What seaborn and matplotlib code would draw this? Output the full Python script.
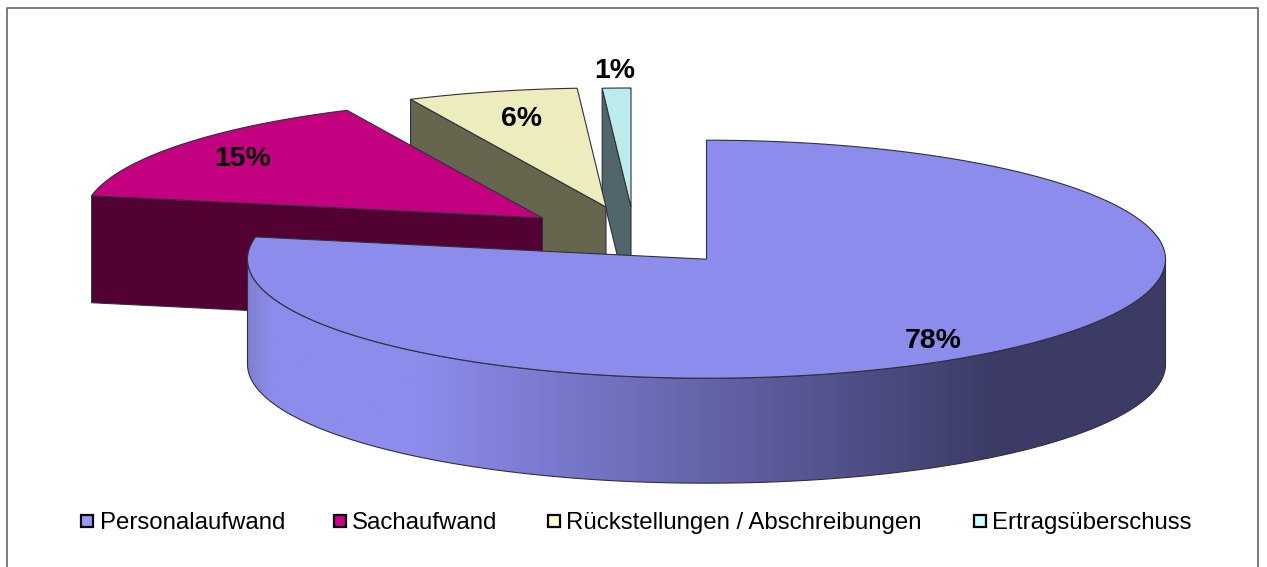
import numpy as np
import matplotlib
matplotlib.use('Agg')
import matplotlib.pyplot as plt
from matplotlib.patches import Polygon, Rectangle
import seaborn as sns

# Values of the chart
categories = ['Personalaufwand', 'Sachaufwand', 'Rückstellungen / Abschreibungen', 'Ertragsüberschuss']
values = [78, 15, 6, 1]
value_labels = ['78%', '15%', '6%', '1%']

top_colors = ['#8c8cec', '#c30080', '#ececbd', '#bbebeb']
side_colors = ['#3b3b66', '#530033', '#66664f', '#50666a']
legend_colors = ['#9999ff', '#cc0088', '#ffffcc', '#ccffff']

# Pie geometry in pixels (y goes down)
RX = 459
RY = 119
centers = [(706.5, 259.2), (542.5, 218), (606, 207), (631, 207)]
depths = [105, 107, 105, 105]
label_pos = [(933, 341), (243, 159), (522, 119), (615, 71)]
legend_box_x = [81, 334, 548, 974]
legend_text_x = [100, 352, 566, 992]
LEGEND_Y = 521
EDGE = '#30303a'


def rim_point(center, angle):
    # angle is clockwise from 12 o'clock
    return np.column_stack((center[0] + RX * np.sin(angle), center[1] - RY * np.cos(angle)))


def draw_slice(ax, center, depth, start, end, top_color, side_color):
    # cut face on the left side of the slice (only the side facing the viewer)
    p = rim_point(center, np.array([start]))[0]
    side = [p, center, (center[0], center[1] + depth), (p[0], p[1] + depth)]
    ax.add_patch(Polygon(side, closed=True, facecolor=side_color, edgecolor=EDGE, lw=0.8))
    arc = rim_point(center, np.linspace(start, end, 80))
    top = np.vstack(([center], arc))
    ax.add_patch(Polygon(top, closed=True, facecolor=top_color, edgecolor=EDGE, lw=0.8))


def draw_main_slice(ax, center, depth, end, top_color, side_color):
    # outer wall with a left to right shading, clipped to the wall shape
    upper = rim_point(center, np.linspace(np.pi / 2, 3 * np.pi / 2, 400))
    wall = np.vstack((upper, (upper + (0, depth))[::-1]))
    wall_patch = Polygon(wall, closed=True, fill=False, edgecolor=EDGE, lw=0.8, zorder=3)
    ax.add_patch(wall_patch)

    x0, x1 = wall[:, 0].min(), wall[:, 0].max()
    y0, y1 = wall[:, 1].min(), wall[:, 1].max()
    cmap = sns.blend_palette(['#8080d2', top_color, top_color, side_color, side_color], as_cmap=True)
    columns = np.arange(x0, x1 + 1)
    shade = np.interp(columns, [x0, x0 + 25, 420, 1000, x1], [0, 0.25, 0.5, 0.75, 1])
    img = ax.imshow(shade[np.newaxis, :], cmap=cmap, vmin=0, vmax=1, extent=(x0, x1, y1, y0),
                    aspect='auto', interpolation='bilinear', zorder=2)
    img.set_clip_path(wall_patch)

    arc = rim_point(center, np.linspace(0, end, 400))
    top = np.vstack(([center], arc))
    ax.add_patch(Polygon(top, closed=True, facecolor=top_color, edgecolor=EDGE, lw=0.8, zorder=4))


sns.set_theme(style='white')
plt.rcParams['font.family'] = ['Liberation Sans', 'DejaVu Sans']

fig = plt.figure(figsize=(12.67, 5.67), dpi=100)
ax = fig.add_axes([0, 0, 1, 1])
ax.axis('off')

# chart frame, its bottom edge is cut off by the picture
ax.plot([7, 7, 1258, 1258], [567, 8, 8, 567], color='#666666', lw=1.2)

edges = np.cumsum([0] + values) / sum(values) * 2 * np.pi

# back slices first, the big one goes on top
for i in [3, 2, 1]:
    draw_slice(ax, centers[i], depths[i], edges[i], edges[i + 1], top_colors[i], side_colors[i])
draw_main_slice(ax, centers[0], depths[0], edges[1], top_colors[0], side_colors[0])

for pos, label in zip(label_pos, value_labels):
    ax.text(pos[0], pos[1], label, fontsize=20.4, fontweight='bold', color='black',
            ha='center', va='center', zorder=6)

# legend
for i, name in enumerate(categories):
    ax.add_patch(Rectangle((legend_box_x[i], LEGEND_Y - 6), 12, 12, facecolor=legend_colors[i],
                           edgecolor='black', lw=1.6, zorder=5))
    ax.text(legend_text_x[i], LEGEND_Y + 2, name, fontsize=17.25, color='black', ha='left', va='center', zorder=6)

# imshow changes the limits, so set them last
ax.set_xlim(0, 1267)
ax.set_ylim(567, 0)

plt.savefig('out.png', dpi=100)
plt.close()
